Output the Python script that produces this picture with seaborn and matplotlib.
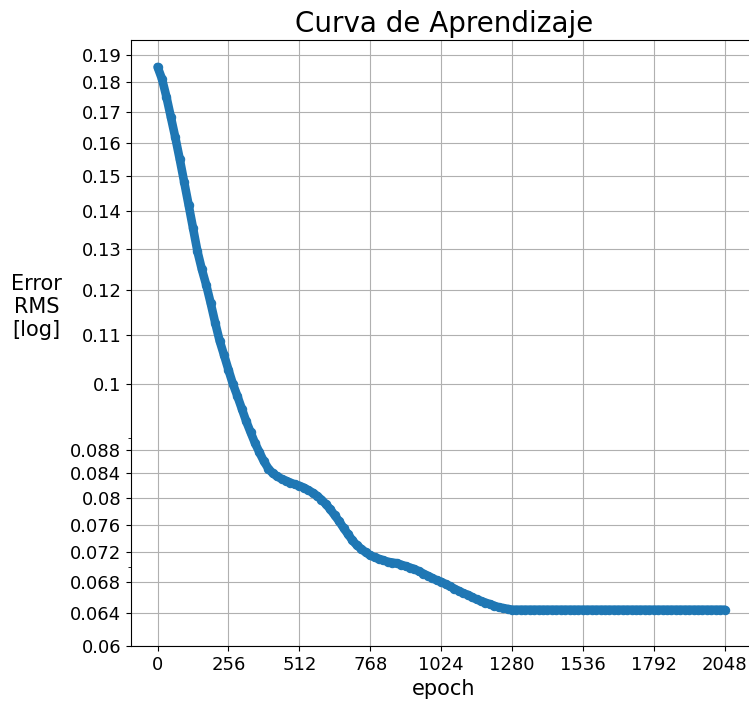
import numpy as np
import matplotlib
matplotlib.use("Agg")
import matplotlib.pyplot as plt
from matplotlib.ticker import FixedLocator, FixedFormatter, NullFormatter
import seaborn as sns

epochs = np.arange(0, 2049, 16)
rms_error = [
    0.1855, 0.1812, 0.1750, 0.1683, 0.1617, 0.1550, 0.1483, 0.1418,
    0.1355, 0.1295, 0.1250, 0.1212, 0.1170, 0.1127, 0.1088, 0.1058,
    0.1028, 0.1000, 0.0977, 0.0953, 0.0930, 0.0910, 0.0891, 0.0875,
    0.0860, 0.0848, 0.0840, 0.0835, 0.0831, 0.0828, 0.0825, 0.0822,
    0.0820, 0.0817, 0.0813, 0.0809, 0.0804, 0.0798, 0.0791, 0.0783,
    0.0774, 0.0765, 0.0755, 0.0746, 0.0737, 0.0730, 0.0725, 0.0720,
    0.0716, 0.0713, 0.0711, 0.0709, 0.0707, 0.0706, 0.0705, 0.0703,
    0.0701, 0.0699, 0.0697, 0.0694, 0.0691, 0.0688, 0.0685, 0.0682,
    0.0680, 0.0677, 0.0674, 0.0671, 0.0668, 0.0665, 0.0663, 0.0660,
    0.0657, 0.0655, 0.0653, 0.0651, 0.0649, 0.0647, 0.0646, 0.0645,
    0.0644, 0.0644, 0.0644, 0.0644, 0.0644, 0.0644, 0.0644, 0.0644,
    0.0644, 0.0644, 0.0644, 0.0644, 0.0644, 0.0644, 0.0644, 0.0644,
    0.0644, 0.0644, 0.0644, 0.0644, 0.0644, 0.0644, 0.0644, 0.0644,
    0.0644, 0.0644, 0.0644, 0.0644, 0.0644, 0.0644, 0.0644, 0.0644,
    0.0644, 0.0644, 0.0644, 0.0644, 0.0644, 0.0644, 0.0644, 0.0644,
    0.0644, 0.0644, 0.0644, 0.0644, 0.0644, 0.0644, 0.0644, 0.0644,
    0.0644,
]

x_ticks = [0, 256, 512, 768, 1024, 1280, 1536, 1792, 2048]
y_ticks = [0.06, 0.064, 0.068, 0.072, 0.076, 0.08, 0.084, 0.088,
           0.1, 0.11, 0.12, 0.13, 0.14, 0.15, 0.16, 0.17, 0.18, 0.19]
y_minor = [0.07, 0.09]

fig = plt.figure(figsize=(7.49, 7.02), dpi=100)
ax = fig.add_axes([0.1749, 0.0798, 0.835, 0.8632])

# thick line of dots, like the original dense per-epoch markers
sns.lineplot(x=epochs, y=rms_error, ax=ax, color="#1f77b4", linewidth=6.2,
             marker="o", markersize=6, markeredgewidth=0.8,
             markeredgecolor="#1f77b4", zorder=3)
for ln in ax.lines:
    ln.set_solid_capstyle("round")
    ln.set_solid_joinstyle("round")

ax.set_yscale("log")
ax.set_ylim(0.06, 0.1955)
ax.set_xlim(-96, 2163)

ax.set_xticks(x_ticks)
ax.yaxis.set_major_locator(FixedLocator(y_ticks))
ax.yaxis.set_major_formatter(FixedFormatter([f"{v:g}" for v in y_ticks]))
ax.yaxis.set_minor_locator(FixedLocator(y_minor))
ax.yaxis.set_minor_formatter(NullFormatter())

ax.grid(True, which="major", color="#b0b0b0", linewidth=0.8)
ax.set_axisbelow(True)
ax.tick_params(axis="both", which="major", labelsize=13)

ax.set_title("Curva de Aprendizaje", fontsize=20)
ax.set_xlabel("epoch", fontsize=15)
ax.set_ylabel("Error\nRMS\n[log]", fontsize=15, rotation=0,
              ha="center", va="center")
ax.yaxis.set_label_coords(-0.151, 0.559)

fig.savefig("out.png", dpi=100)
